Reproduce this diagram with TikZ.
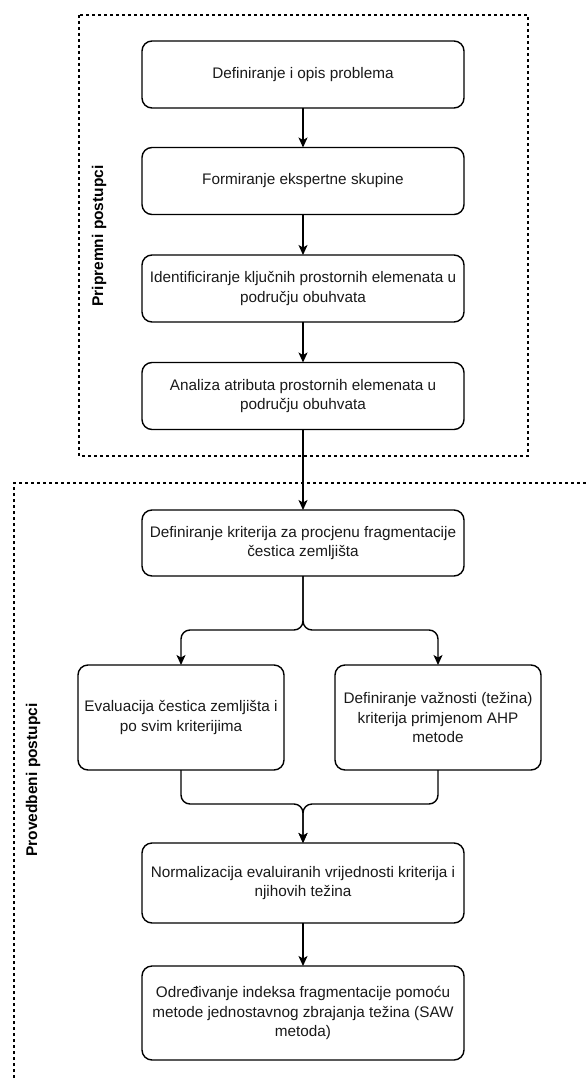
\documentclass[tikz,border=0pt]{standalone}
\usepackage{fontspec}
\setmainfont{Liberation Sans}
\usetikzlibrary{arrows.meta}
\begin{document}
\begin{tikzpicture}[x=1pt,y=-1pt,
  every node/.style={inner sep=0pt,outer sep=0pt},
  stepbox/.style={draw=black,line width=1.4pt,rounded corners=10pt,align=center,
    font=\fontsize{15.3}{19.5}\selectfont,text=black!90},
  flow/.style={line width=1.4pt,-{Stealth[length=10pt,width=9pt,inset=2.5pt]},rounded corners=9pt},
  frame/.style={line width=1.4pt,dash pattern=on 3pt off 3pt},
  phase/.style={rotate=90,font=\fontsize{15.5}{18}\selectfont\bfseries,text=black}]
\useasboundingbox (0,0) rectangle (588,1081);
\clip (0,0) rectangle (588,1081);

% phase frames
\draw[frame] (79,15) rectangle (528,456);
\draw[frame] (14,1090) -- (14,483) -- (600,483);
\node[phase] (lblA) at (99,236) {Pripremni postupci};
\node[phase] (lblB) at (33,780) {Provedbeni postupci};

% process steps
\node[stepbox,minimum width=322pt,minimum height=67pt] (s1) at (303,74.5) {Definiranje i opis problema};
\node[stepbox,minimum width=322pt,minimum height=67pt] (s2) at (303,181) {Formiranje ekspertne skupine};
\node[stepbox,minimum width=322pt,minimum height=67pt] (s3) at (303,288.5) {Identificiranje ključnih prostornih elemenata u\\ području obuhvata};
\node[stepbox,minimum width=322pt,minimum height=67pt] (s4) at (303,396) {Analiza atributa prostornih elemenata u\\ području obuhvata};
\node[stepbox,minimum width=322pt,minimum height=66pt] (s5) at (303,543) {Definiranje kriterija za procjenu fragmentacije\\ čestica zemljišta};
\node[stepbox,minimum width=206pt,minimum height=105pt] (s6a) at (181,717.5) {Evaluacija čestica zemljišta i\\ po svim kriterijima};
\node[stepbox,minimum width=206pt,minimum height=105pt] (s6b) at (438,717.5) {Definiranje važnosti (težina)\\ kriterija primjenom AHP\\ metode};
\node[stepbox,minimum width=322pt,minimum height=80pt] (s7) at (303,883) {Normalizacija evaluiranih vrijednosti kriterija i\\ njihovih težina};
\node[stepbox,minimum width=322pt,minimum height=94pt] (s8) at (303,1013) {Određivanje indeksa fragmentacije pomoću\\ metode jednostavnog zbrajanja težina (SAW\\ metoda)};

% connectors
\draw[flow] (s1) -- (s2);
\draw[flow] (s2) -- (s3);
\draw[flow] (s3) -- (s4);
\draw[flow] (s4) -- (s5);
\coordinate (split) at (303,630);
\coordinate (merge) at (303,804);
\draw[flow] (s5.south) -- (split) -| (s6a.north);
\draw[flow] (s5.south) -- (split) -| (s6b.north);
\draw[flow] (s6a.south) |- (merge) -- (s7.north);
\draw[flow] (s6b.south) |- (merge) -- (s7.north);
\draw[flow] (s7) -- (s8);
\end{tikzpicture}
\end{document}
